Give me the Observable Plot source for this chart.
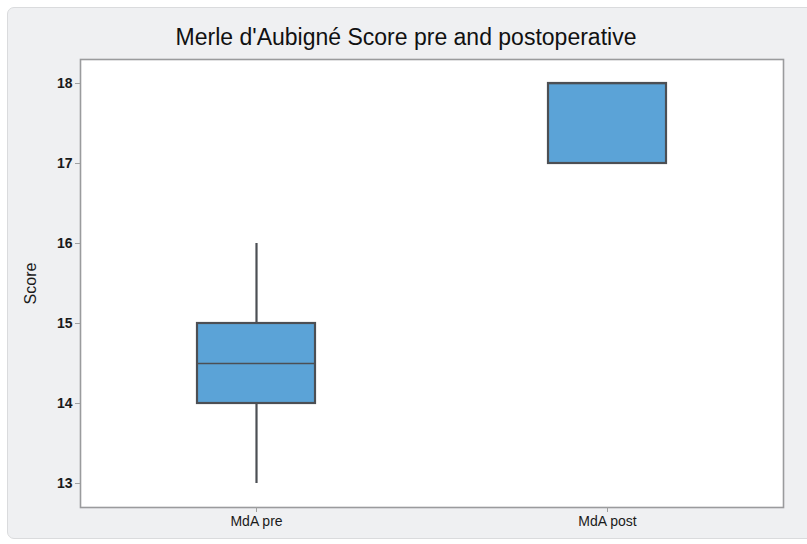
<!DOCTYPE html>
<html>
<head>
<meta charset="utf-8">
<script src="https://cdn.jsdelivr.net/npm/d3@7"></script>
<script src="https://cdn.jsdelivr.net/npm/@observablehq/plot@0.6"></script>
<style>
  html, body { margin: 0; padding: 0; background: #ffffff; }
  #wrap { position: relative; width: 807px; height: 544px; overflow: hidden; font-family: "Liberation Sans", Arial, sans-serif; }
  #panel { position: absolute; left: 7px; top: 7px; width: 820px; height: 532px; background: #eff0f2; border: 1px solid #dadbdd; border-radius: 7px; box-sizing: border-box; }
  #title { position: absolute; left: 0; top: 25px; width: 812px; text-align: center; font-size: 23px; color: #111; line-height: 24px; }
  #chart { position: absolute; left: 0; top: 0; }
  #chart svg { background: transparent !important; }
</style>
</head>
<body>
<div id="wrap">
  <div id="panel"></div>
  <div id="title">Merle d'Aubigné Score pre and postoperative</div>
  <div id="chart"></div>
</div>
<script>
const categories = ["MdA pre", "MdA post"];
const mins = [13, 17];
const q1s = [14, 17];
const medians = [14.5, 18];
const q3s = [15, 18];
const maxs = [16, 18];
const yTicks = [13, 14, 15, 16, 17, 18];
const yLabel = "Score";

const data = categories.map((c, i) => ({
  cat: c, min: mins[i], q1: q1s[i], median: medians[i], q3: q3s[i], max: maxs[i]
}));

const boxFill = "#5ba3d7";
const boxStroke = "#4c4f54";

const chart = Plot.plot({
  width: 807,
  height: 544,
  marginLeft: 80,
  marginRight: 24,
  marginTop: 59,
  marginBottom: 37,
  style: { background: "transparent", fontFamily: "Liberation Sans, Arial, sans-serif", color: "#222" },
  x: { domain: categories, paddingInner: 0.664, paddingOuter: 0.333, label: null },
  y: { domain: [12.7, 18.3], label: null },
  marks: [
    Plot.frame({ fill: "white", stroke: "none" }),
    Plot.ruleX(data, { x: "cat", y1: "min", y2: "max", stroke: boxStroke, strokeWidth: 2.2 }),
    Plot.barY(data, { x: "cat", y1: "q1", y2: "q3", fill: boxFill, stroke: boxStroke, strokeWidth: 2.2 }),
    Plot.tickY(data, { x: "cat", y: "median", stroke: boxStroke, strokeWidth: 1.5 }),
    Plot.frame({ stroke: "#9a9b9d", strokeWidth: 1.6 }),
    Plot.axisY({ ticks: yTicks, tickFormat: "d", tickSize: 5, tickPadding: 3, fontSize: 14, label: null, stroke: "#a0a0a0", fill: "#1a1a1a", fontWeight: 600 }),
    Plot.axisX({ tickSize: 5, tickPadding: 4, fontSize: 14, label: null, stroke: "#a0a0a0", fill: "#1a1a1a" }),
    Plot.text([yLabel], { text: d => d, frameAnchor: "left", textAnchor: "middle", rotate: -90, dx: -50, fontSize: 16, fill: "#1a1a1a" })
  ]
});
document.getElementById("chart").appendChild(chart);
</script>
</body>
</html>
